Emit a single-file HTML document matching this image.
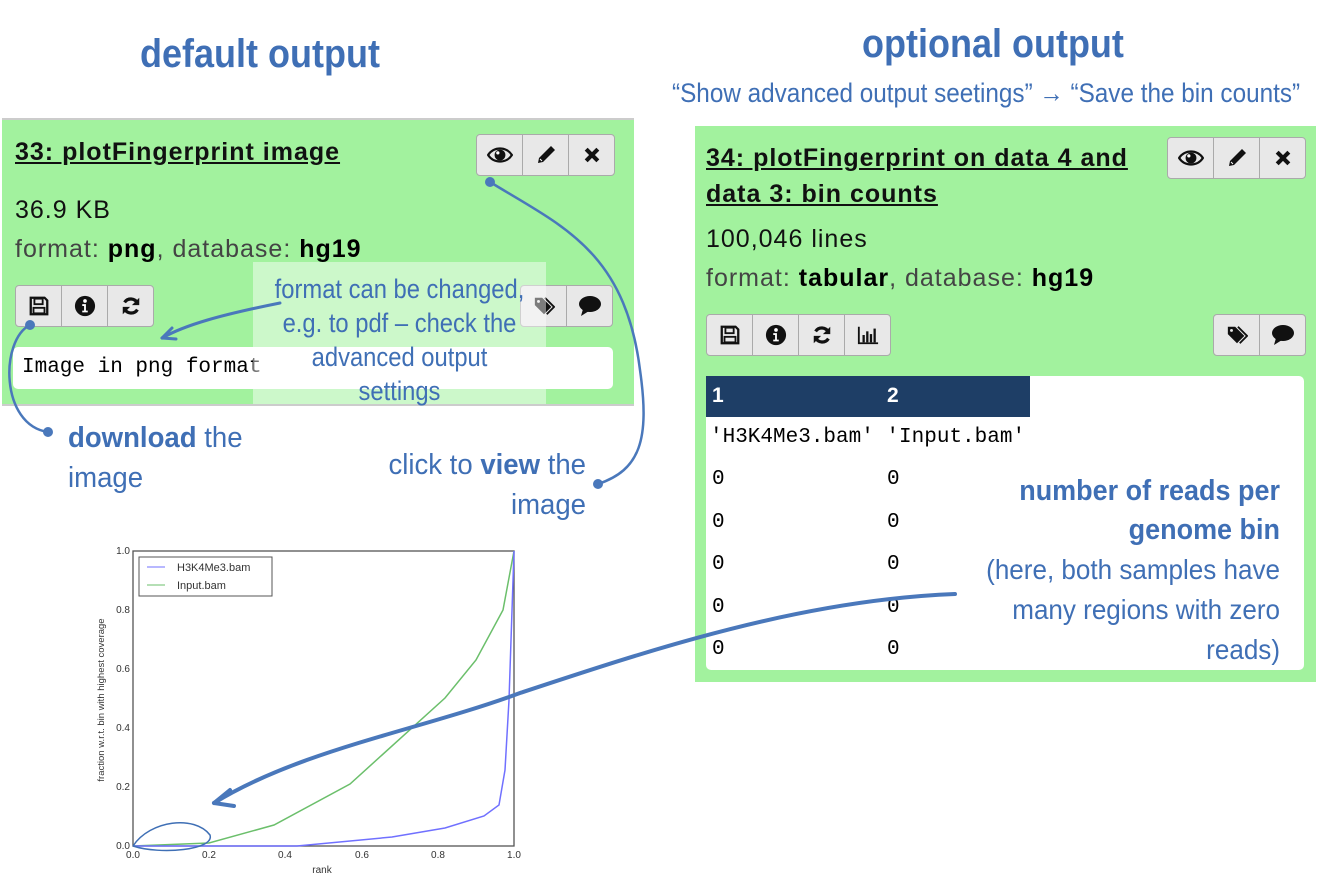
<!DOCTYPE html>
<html><head><meta charset="utf-8"><style>
body{margin:0;width:1344px;height:884px;background:#fff;position:relative;overflow:hidden;font-family:"Liberation Sans",sans-serif}
.a{position:absolute}
.hand{font-family:"Liberation Sans",sans-serif;color:#3f6fb5;white-space:nowrap}
.grp{position:absolute;display:flex;border:1px solid #aaa;border-radius:4px;background:#e8e8e8;height:40px}
.grp span{width:45px;display:flex;align-items:center;justify-content:center;border-right:1px solid #aaa;font-size:22px;color:#111}
.grp span:last-child{border-right:none}
.mono{font-family:"Liberation Mono",monospace;font-size:21px;color:#000;white-space:nowrap}
.t{font-size:25px;letter-spacing:1px;color:#111;white-space:nowrap}
</style></head><body>
<div class="a hand" style="left:140px;top:32px;font-size:40px;font-weight:bold;transform:scaleX(0.9);transform-origin:0 0">default output</div>
<div class="a hand" style="left:862px;top:22px;font-size:40px;font-weight:bold;transform:scaleX(0.9);transform-origin:0 0">optional output</div>
<div class="a hand" style="left:672px;top:78px;font-size:27px;transform:scaleX(0.9);transform-origin:0 0">“Show advanced output seetings” → “Save the bin counts”</div>

<svg width="0" height="0" style="position:absolute"><defs>
<symbol id="eye" viewBox="0 0 24 24"><path d="M1,12 C6,4 18,4 23,12 C18,20 6,20 1,12Z" fill="none" stroke="#111" stroke-width="2"/><circle cx="12" cy="12" r="5" fill="#111"/><circle cx="10" cy="10" r="1.5" fill="#fff"/></symbol>
<symbol id="pen" viewBox="0 0 24 24"><path d="M4,20 L5,15 L17,3 L21,7 L9,19Z" fill="#111"/><path d="M6,16 L8,18" stroke="#fff" stroke-width="1"/></symbol>
<symbol id="x" viewBox="0 0 24 24"><path d="M5,5 L19,19 M19,5 L5,19" stroke="#111" stroke-width="5"/></symbol>
<symbol id="save" viewBox="0 0 24 24"><path d="M3,3 H18 L21,6 V21 H3Z" fill="none" stroke="#111" stroke-width="2.5"/><rect x="7" y="4" width="9" height="6" fill="none" stroke="#111" stroke-width="2"/><rect x="6" y="14" width="12" height="6" fill="none" stroke="#111" stroke-width="2"/></symbol>
<symbol id="info" viewBox="0 0 24 24"><circle cx="12" cy="12" r="11" fill="#111"/><circle cx="12" cy="6.5" r="2" fill="#fff"/><path d="M9,10 H13 V17 H15 V19 H9 V17 H11 V12 H9Z" fill="#fff"/></symbol>
<symbol id="ref" viewBox="0 0 24 24"><path d="M19,9 A8,8 0 0 0 5,8 M5,15 A8,8 0 0 0 19,16" fill="none" stroke="#111" stroke-width="3.5"/><path d="M21,3 V11 H13Z M3,21 V13 H11Z" fill="#111"/></symbol>
<symbol id="bar" viewBox="0 0 24 24"><path d="M2,3 V21 H23" fill="none" stroke="#111" stroke-width="2"/><rect x="6" y="12" width="2.5" height="8" fill="#111"/><rect x="10" y="8" width="2.5" height="12" fill="#111"/><rect x="14" y="11" width="2.5" height="9" fill="#111"/><rect x="18" y="5" width="2.5" height="15" fill="#111"/></symbol>
<symbol id="tag" viewBox="0 0 24 24"><path d="M2,3 H10 L20,13 L12,21 L2,11Z" fill="#111"/><circle cx="6" cy="7" r="1.6" fill="#e8e8e8"/><path d="M13,3 L23,13 L15,21" fill="none" stroke="#111" stroke-width="2"/></symbol>
<symbol id="com" viewBox="0 0 24 24"><ellipse cx="12" cy="10" rx="11" ry="8" fill="#111"/><path d="M5,15 L3,22 L11,17Z" fill="#111"/></symbol>
</defs></svg>

<!-- left panel -->
<div class="a" style="left:2px;top:118px;width:632px;height:284px;background:#a2f29e;border-top:2px solid #ccc;border-bottom:2px solid #ccc"></div>
<div class="a t" style="left:15px;top:138px;font-weight:bold;text-decoration:underline">33: plotFingerprint image</div>
<div class="grp" style="left:476px;top:134px"><span><svg width="26" height="26"><use href="#eye"/></svg></span><span><svg width="24" height="24"><use href="#pen"/></svg></span><span><svg width="20" height="20"><use href="#x"/></svg></span></div>
<div class="a t" style="left:15px;top:196px">36.9 KB</div>
<div class="a t" style="left:15px;top:235px;color:#444">format: <b style="color:#000">png</b>, database: <b style="color:#000">hg19</b></div>
<div class="grp" style="left:15px;top:285px"><span><svg width="22" height="22"><use href="#save"/></svg></span><span><svg width="22" height="22"><use href="#info"/></svg></span><span><svg width="22" height="22"><use href="#ref"/></svg></span></div>
<div class="grp" style="left:520px;top:285px"><span><svg width="22" height="22"><use href="#tag"/></svg></span><span><svg width="24" height="24"><use href="#com"/></svg></span></div>
<div class="a" style="left:13px;top:347px;width:600px;height:42px;background:#fff;border-radius:5px"></div>
<div class="a mono" style="left:22px;top:356px">Image in png format</div>
<div class="a" style="left:253px;top:262px;width:293px;height:142px;background:rgba(255,255,255,0.45)"></div>
<div class="a hand" style="left:253px;top:272px;width:293px;text-align:center;font-size:27px;line-height:34px"><div style="transform:scaleX(0.88)">format can be changed,<br>e.g. to pdf – check the<br>advanced output<br>settings</div></div>

<div class="a hand" style="left:68px;top:418px;font-size:29px;line-height:40px;transform:scaleX(0.95);transform-origin:0 0"><b>download</b> the<br>image</div>
<div class="a hand" style="left:336px;top:445px;font-size:29px;line-height:40px;text-align:right;width:250px;transform:scaleX(0.95);transform-origin:100% 0">click to <b>view</b> the<br>image</div>

<!-- right panel -->
<div class="a" style="left:695px;top:126px;width:621px;height:556px;background:#a2f29e"></div>
<div class="a t" style="left:706px;top:140px;font-weight:bold;text-decoration:underline;line-height:36px">34: plotFingerprint on data 4 and<br>data 3: bin counts</div>
<div class="grp" style="left:1167px;top:137px"><span><svg width="26" height="26"><use href="#eye"/></svg></span><span><svg width="24" height="24"><use href="#pen"/></svg></span><span><svg width="20" height="20"><use href="#x"/></svg></span></div>
<div class="a t" style="left:706px;top:225px">100,046 lines</div>
<div class="a t" style="left:706px;top:264px;color:#444">format: <b style="color:#000">tabular</b>, database: <b style="color:#000">hg19</b></div>
<div class="grp" style="left:706px;top:314px"><span><svg width="22" height="22"><use href="#save"/></svg></span><span><svg width="22" height="22"><use href="#info"/></svg></span><span><svg width="22" height="22"><use href="#ref"/></svg></span><span><svg width="22" height="22"><use href="#bar"/></svg></span></div>
<div class="grp" style="left:1213px;top:314px"><span><svg width="22" height="22"><use href="#tag"/></svg></span><span><svg width="24" height="24"><use href="#com"/></svg></span></div>
<div class="a" style="left:706px;top:376px;width:598px;height:294px;background:#fff;border-radius:5px"></div>
<div class="a" style="left:706px;top:376px;width:324px;height:41px;background:#1e3e66"></div>
<div class="a" style="left:712px;top:384px;color:#fff;font-weight:bold;font-size:21px">1</div>
<div class="a" style="left:887px;top:384px;color:#fff;font-weight:bold;font-size:21px">2</div>
<div class="a mono" style="left:710px;top:426px">'H3K4Me3.bam' 'Input.bam'</div>
<div class="a mono" style="left:712px;top:459px;line-height:42.5px">0<br>0<br>0<br>0<br>0</div>
<div class="a mono" style="left:887px;top:459px;line-height:42.5px">0<br>0<br>0<br>0<br>0</div>
<div class="a hand" style="left:880px;top:472px;width:400px;text-align:right;font-size:29px;line-height:39px;transform:scaleX(0.93);transform-origin:100% 0"><b>number of reads per<br>genome bin</b><br><span style="font-size:28px">(here, both samples have<br>many regions with zero<br>reads)</span></div>

<!-- plot -->
<svg class="a" style="left:0;top:0" width="1344" height="884">
<g font-family="Liberation Sans,sans-serif" font-size="10" fill="#333">
<rect x="133" y="551" width="381" height="295" fill="none" stroke="#555" stroke-width="1.3"/>
<text x="133" y="858" text-anchor="middle">0.0</text><text x="209" y="858" text-anchor="middle">0.2</text><text x="285" y="858" text-anchor="middle">0.4</text><text x="362" y="858" text-anchor="middle">0.6</text><text x="438" y="858" text-anchor="middle">0.8</text><text x="514" y="858" text-anchor="middle">1.0</text>
<text x="130" y="849" text-anchor="end">0.0</text><text x="130" y="790" text-anchor="end">0.2</text><text x="130" y="731" text-anchor="end">0.4</text><text x="130" y="672" text-anchor="end">0.6</text><text x="130" y="613" text-anchor="end">0.8</text><text x="130" y="554" text-anchor="end">1.0</text>
<text x="322" y="873" text-anchor="middle">rank</text>
<text transform="translate(104,700) rotate(-90)" text-anchor="middle" font-size="9.5">fraction w.r.t. bin with highest coverage</text>
<rect x="139" y="557" width="133" height="39" fill="#fff" stroke="#555"/>
<line x1="147" y1="567" x2="165" y2="567" stroke="#7070ff"/><text x="177" y="571" font-size="11">H3K4Me3.bam</text>
<line x1="147" y1="585" x2="165" y2="585" stroke="#6bbf6b"/><text x="177" y="589" font-size="11">Input.bam</text>
</g>
<polyline fill="none" stroke="#6bbf6b" stroke-width="1.5" points="133,846 209,843 274,825 350,784 445,698 476,660 503,610 514,551"/>
<polyline fill="none" stroke="#7070ff" stroke-width="1.5" points="133,846 297,846 392,837 445,828 484,816 499,805 505,770 509,700 514,551"/>
<path d="M133,846 C150,820 195,815 210,835 C215,850 160,855 133,846" fill="none" stroke="#3f6fb5" stroke-width="1.5"/>
<g stroke="#4a78bb" fill="none" stroke-linecap="round">
<path d="M955,594 C800,600 650,650 520,693 C420,730 300,750 214,803" stroke-width="4"/>
<path d="M214,803 L230,790 M214,803 L234,806" stroke-width="4"/>
<path d="M280,303 C220,315 185,325 162,338" stroke-width="3"/>
<path d="M162,338 L172,328 M162,338 L176,339" stroke-width="3"/>
<path d="M30,325 C0,340 0,425 48,432" stroke-width="2.5"/>
<path d="M490,182 C560,225 625,250 640,370 C650,440 640,470 598,484" stroke-width="2.5"/>
</g>
<g fill="#4a78bb"><circle cx="30" cy="325" r="5"/><circle cx="48" cy="432" r="5"/><circle cx="490" cy="182" r="5"/><circle cx="598" cy="484" r="5"/></g>
</svg>
</body></html>
